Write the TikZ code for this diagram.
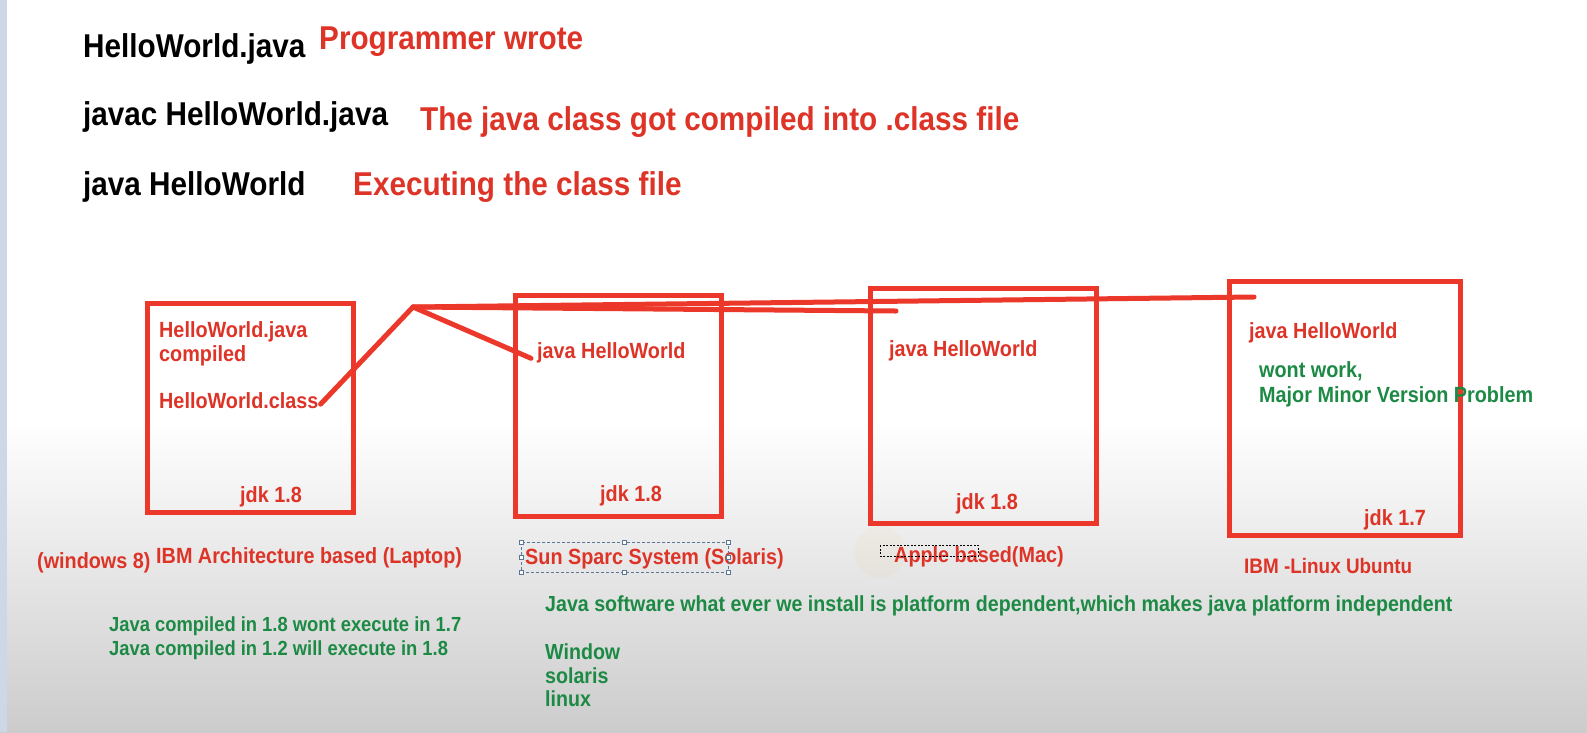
\documentclass[tikz,border=0pt]{standalone}
\usepackage{fontspec}
\newfontfamily\af{Liberation Sans}[FakeStretch=0.9]
\definecolor{rtxt}{RGB}{222,52,40}
\definecolor{rbox}{RGB}{236,56,42}
\definecolor{gtxt}{RGB}{28,138,68}
\definecolor{strip}{RGB}{205,216,230}
\definecolor{selc}{RGB}{90,120,150}
\tikzset{
  big/.style={font=\af\bfseries\fontsize{33}{39}\selectfont, anchor=base west, inner sep=0pt},
  mid/.style={font=\af\bfseries\fontsize{22}{26}\selectfont, anchor=base west, inner sep=0pt},
  small/.style={font=\af\bfseries\fontsize{20.4}{24}\selectfont, anchor=base west, inner sep=0pt},
  smallb/.style={font=\af\bfseries\fontsize{21.8}{26}\selectfont, anchor=base west, inner sep=0pt},
  frame/.style={draw=rbox, line width=5pt, minimum width=#1, inner sep=0pt, anchor=north west},
  stroke/.style={draw=rbox, line width=5pt, line cap=round},
  sel/.style={draw=selc, line width=0.8pt, dash pattern=on 3pt off 2pt},
  handle/.style={draw=selc, fill=white, line width=0.6pt, minimum size=4pt, inner sep=0pt}
}
\begin{document}
\begin{tikzpicture}[x=1pt,y=-1pt]
\useasboundingbox (0,0) rectangle (1587,732);
% background
\fill[white] (0,0) rectangle (1587,732);
\shade[top color=white, bottom color=black!20] (0,420) rectangle (1587,732);
\fill[strip] (0,0) rectangle (7,732);
\fill[yellow!40!orange, opacity=0.04] (880,552) circle (26);
% top lines
\node[big, text=black] (t1) at (83,57) {HelloWorld.java};
\node[big, text=rtxt] (t1r) at (319,49) {Programmer wrote};
\node[big, text=black] (t2) at (83,125) {javac HelloWorld.java};
\node[big, text=rtxt] (t2r) at (420,130) {The java class got compiled into .class file};
\node[big, text=black] (t3) at (83,195) {java HelloWorld};
\node[big, text=rtxt] (t3r) at (353,195) {Executing the class file};
% boxes
\node[frame=206pt, minimum height=209pt] (b1) at (145,301) {};
\node[frame=206pt, minimum height=221pt] (b2) at (513,293) {};
\node[frame=226pt, minimum height=235pt] (b3) at (868,286) {};
\node[frame=231pt, minimum height=254pt] (b4) at (1227,279) {};
% box texts
\node[mid, text=rtxt] (b1a) at (159,337) {HelloWorld.java};
\node[mid, text=rtxt] (b1b) at (159,361) {compiled};
\node[mid, text=rtxt] (b1c) at (159,408) {HelloWorld.class};
\node[mid, text=rtxt] (b1j) at (240,502) {jdk 1.8};
\node[mid, text=rtxt] (b2a) at (537,358) {java HelloWorld};
\node[mid, text=rtxt] (b2j) at (600,501) {jdk 1.8};
\node[mid, text=rtxt] (b3a) at (889,356) {java HelloWorld};
\node[mid, text=rtxt] (b3j) at (956,509) {jdk 1.8};
\node[mid, text=rtxt] (b4a) at (1249,338) {java HelloWorld};
\node[mid, text=gtxt] (b4g1) at (1259,377) {wont work,};
\node[mid, text=gtxt] (b4g2) at (1259,402) {Major Minor Version Problem};
\node[mid, text=rtxt] (b4j) at (1364,525) {jdk 1.7};
% connectors
\coordinate (apex) at (413,307);
\coordinate (e3) at (896,311);
\coordinate (e4) at (1254,297);
\draw[stroke] ([xshift=2pt,yshift=-4pt]b1c.east) -- (apex);
\draw[stroke] (apex) -- ([xshift=-6pt,yshift=-6pt]b2a.west);
\draw[stroke] (apex) -- (e3);
\draw[stroke] (apex) -- (e4);
% platform labels
\node[mid, text=rtxt] (w8) at (37,568) {(windows 8)};
\node[mid, text=rtxt] (ibm) at (156,563) {IBM Architecture based (Laptop)};
\node[mid, text=rtxt] (sun) at (525,564) {Sun Sparc System (Solaris)};
\node[mid, text=rtxt] (apple) at (894,562) {Apple based(Mac)};
\node[mid, text=rtxt, font=\af\bfseries\fontsize{21}{25}\selectfont] (lin) at (1244,573) {IBM -Linux Ubuntu};
% selection frame around Sun label
\draw[sel] (521,542) rectangle (728,572);
\foreach \hx/\hy [count=\i] in {521/542,624/542,728/542,521/557,728/557,521/572,624/572,728/572}
  \node[handle] (h\i) at (\hx,\hy) {};
\draw[draw=black, line width=0.7pt, dash pattern=on 2pt off 1.5pt] (880,545) rectangle (978,556);
% green notes
\node[small, text=gtxt] (n1) at (109,631) {Java compiled in 1.8 wont execute in 1.7};
\node[small, text=gtxt] (n2) at (109,655) {Java compiled in 1.2 will execute in 1.8};
\node[smallb, text=gtxt] (n3) at (545,611) {Java software what ever we install is platform dependent,which makes java platform independent};
\node[smallb, text=gtxt] (n4) at (545,659) {Window};
\node[smallb, text=gtxt] (n5) at (545,683) {solaris};
\node[smallb, text=gtxt] (n6) at (545,706) {linux};
\end{tikzpicture}
\end{document}
